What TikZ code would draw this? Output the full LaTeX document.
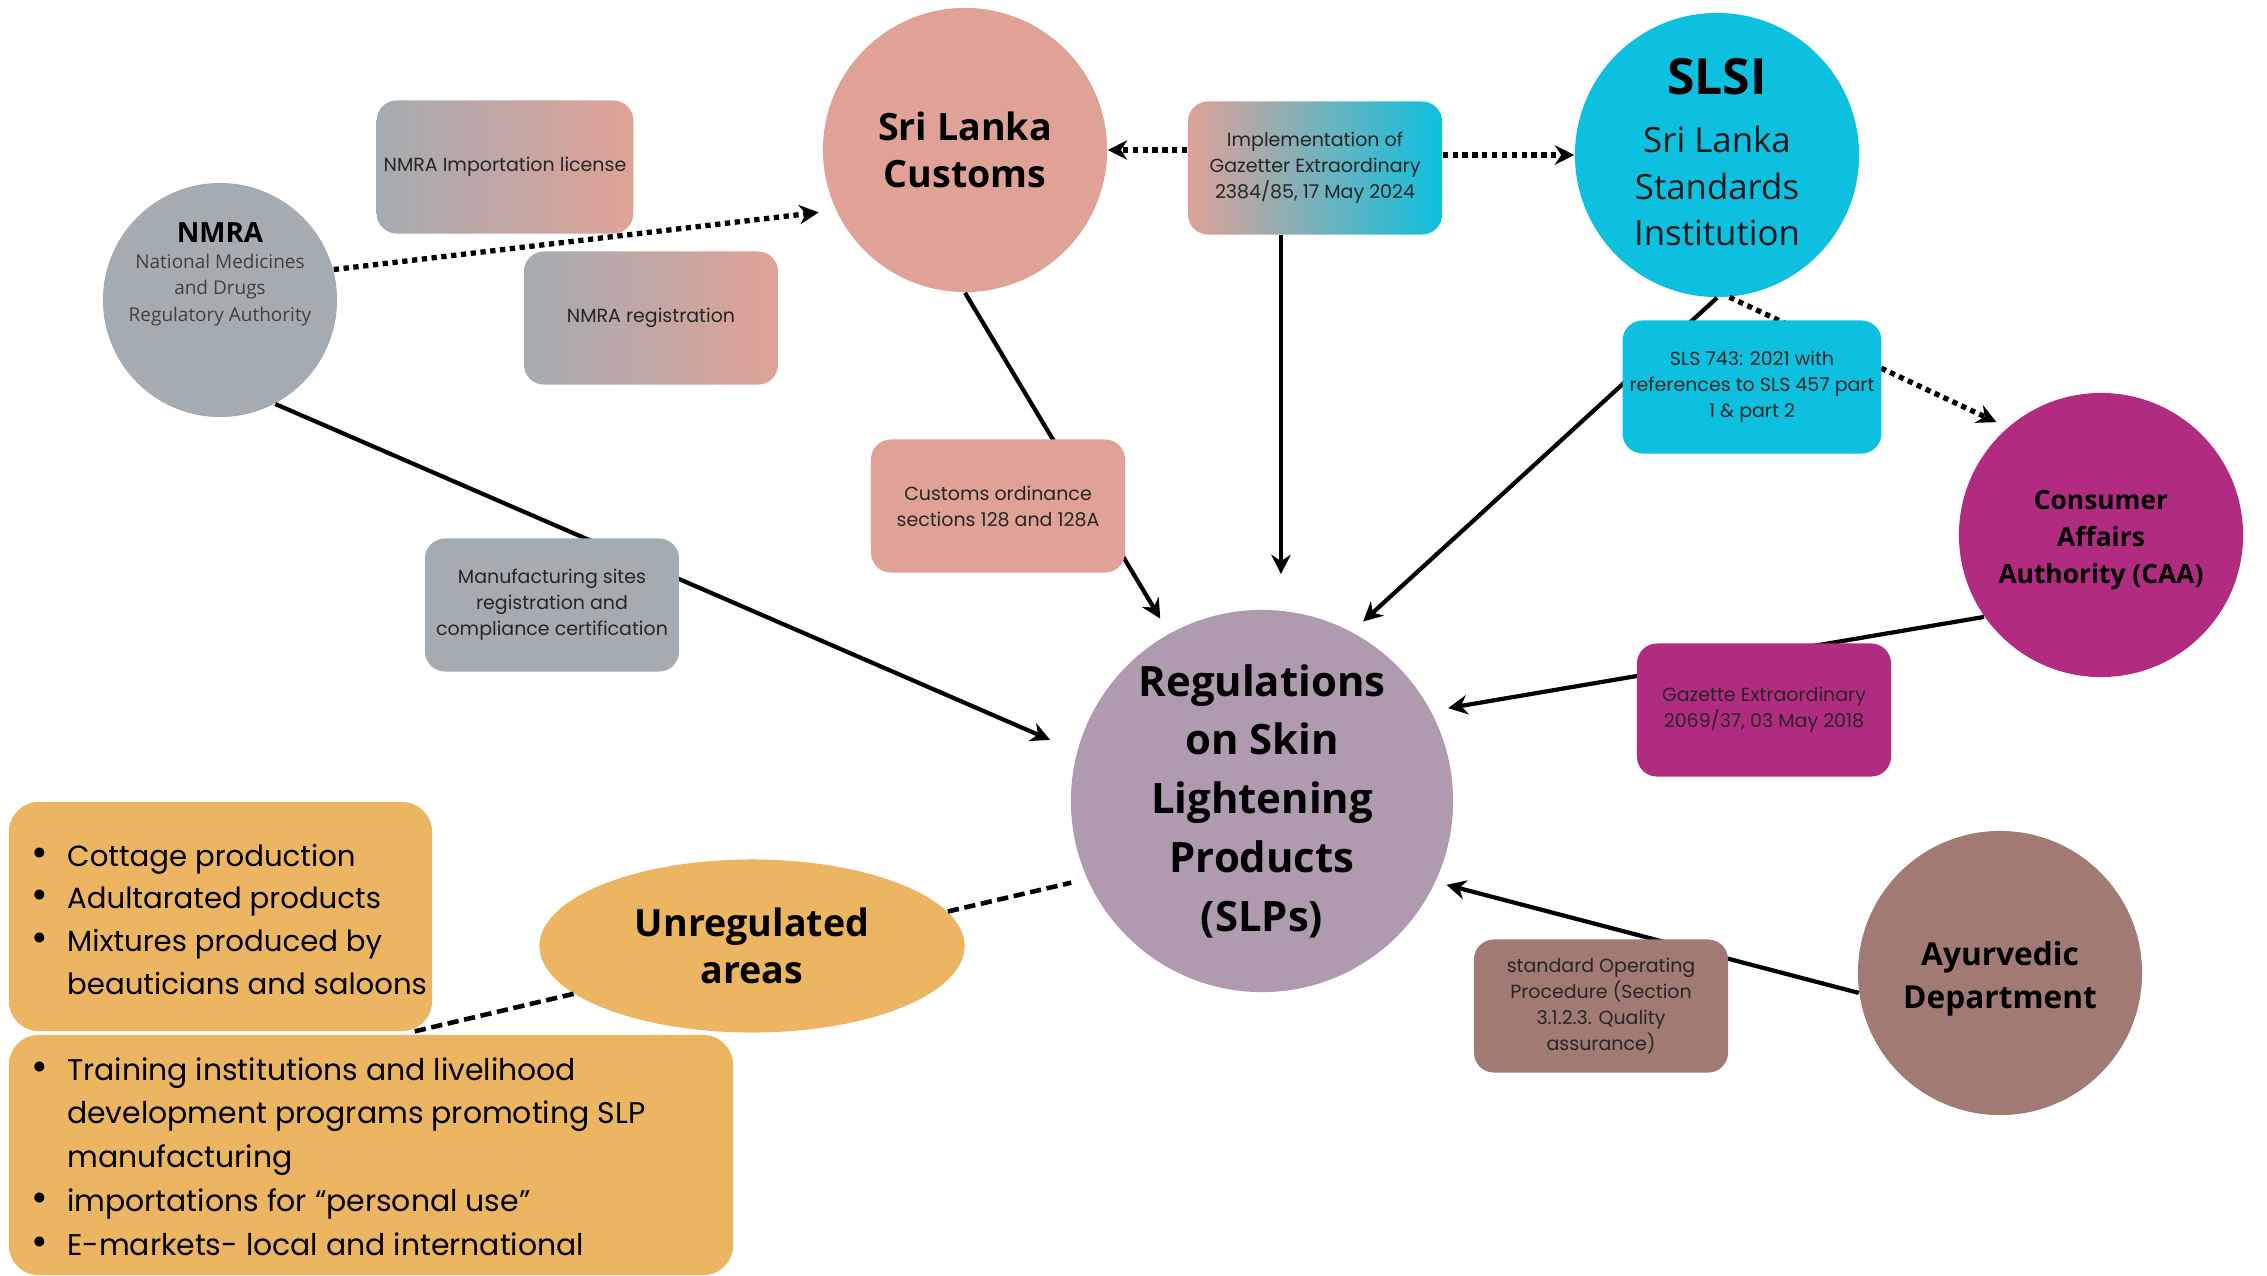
\documentclass[tikz,border=0pt]{standalone}
\usepackage{fontspec}
\usetikzlibrary{shapes.geometric,arrows.meta,positioning}

\newfontfamily\popfont{Poppins}
\newfontfamily\opfont{Open Sans}
\newcommand{\txtsize}[2]{\fontsize{#1}{#2}\selectfont}
\newcommand{\dotmark}{{\txtsize{11.5}{12}\textbullet}}

\definecolor{nmragrey}{HTML}{A4ACB1}
\definecolor{custpink}{HTML}{E0A297}
\definecolor{slsicyan}{HTML}{0EC0DF}
\definecolor{caamag}{HTML}{B12C80}
\definecolor{ayurbrown}{HTML}{A17A74}
\definecolor{slpmauve}{HTML}{AF9AAF}
\definecolor{unregorange}{HTML}{ECB561}

\begin{document}
\begin{tikzpicture}[
    x=0.01cm, y=-0.01cm,
    agency/.style={circle, inner sep=0pt, minimum size=2.84cm, align=center},
    doc/.style={rectangle, rounded corners=0.2cm, minimum width=2.54cm, minimum height=1.33cm, inner sep=2pt, align=center, text=black!85, font=\popfont\txtsize{5.4}{7.4}},
    listbox/.style={rectangle, rounded corners=0.3cm, fill=unregorange},
    listtext/.style={anchor=base west, inner sep=0pt, font=\popfont\txtsize{8.3}{12.2}},
    link/.style={-{Stealth[length=5.5pt,width=5.5pt]}, line width=1.2pt},
    dots/.style={link, line width=1.5pt, dash pattern=on 1.5pt off 1.3pt},
    loose/.style={line width=1.3pt, dash pattern=on 3.2pt off 1.6pt}
]
    \useasboundingbox (0,0) rectangle (2267,1275);

    % agencies
    \node[agency, fill=nmragrey, minimum size=2.34cm] (nmra) at (220,300) {};
    \node[align=center, text=black!75, font=\opfont\txtsize{5.4}{7.5}] (nmratxt) at (220,274)
        {{\bfseries\color{black}\txtsize{7.9}{7.5}NMRA}\\National Medicines\\and Drugs\\Regulatory Authority};
    \node[agency, fill=custpink, font=\opfont\bfseries\txtsize{10.7}{13.2}] (customs) at (965,150) {Sri Lanka\\Customs};
    \node[agency, fill=slsicyan] (slsi) at (1717,155) {};
    \node[align=center, text=black!90, font=\opfont\txtsize{9.9}{13.2}] (slsitxt) at (1717,152)
        {{\bfseries\color{black}\txtsize{14.2}{17}SLSI}\\[3.5pt]Sri Lanka\\Standards\\Institution};
    \node[agency, fill=caamag] (caa) at (2101,535) {};
    \node[align=center, font=\opfont\bfseries\txtsize{7.5}{10.5}] (caatxt) at (2101,540) {Consumer\\Affairs\\Authority (CAA)};
    \node[agency, fill=ayurbrown] (ayur) at (2000,973) {};
    \node[align=center, font=\opfont\bfseries\txtsize{9}{12.3}] (ayurtxt) at (2000,979) {Ayurvedic\\Department};
    \node[agency, fill=slpmauve, minimum size=3.82cm, font=\opfont\bfseries\txtsize{11.9}{16.7}] (slp) at (1262,801)
        {Regulations\\on Skin\\Lightening\\Products\\(SLPs)};
    \node[ellipse, fill=unregorange, minimum width=4.25cm, minimum height=1.73cm, inner sep=0pt, align=center,
        font=\opfont\bfseries\txtsize{10.7}{13.2}] (unreg) at (752,946) {Unregulated\\areas};

    % links into the centre
    \draw[link, shorten >=0.29cm] (nmra.-62) -- (slp.165);
    \draw[link, shorten >=0.17cm] (customs.south) -- (slp.119);
    \draw[link, shorten >=0.15cm] (slsi.south) -- (slp.62);
    \draw[link, shorten >=0.17cm] (caa.215) -- (slp.28);
    \draw[link, shorten >=0.11cm] (ayur.188) -- (slp.-25);
    \draw[dots, shorten >=0.17cm] (nmra.15) -- (customs.205);
    \draw[dots, shorten >=0.12cm] (slsi.-85) -- (caa.131);
    \draw[loose, shorten >=0.16cm] (unreg.10) -- (slp.204);

    % documents
    \node[doc, left color=nmragrey, right color=custpink] (implic) at (505,167) {NMRA Importation license};
    \node[doc, left color=nmragrey, right color=custpink] (nmrareg) at (651,318) {NMRA registration};
    \node[doc, fill=nmragrey] (sites) at (552,605) {Manufacturing sites\\registration and\\compliance certification};
    \node[doc, fill=custpink] (ordin) at (998,506) {Customs ordinance\\sections 128 and 128A};
    \node[doc, left color=custpink, right color=slsicyan] (gazimpl) at (1315,168) {Implementation of\\Gazetter Extraordinary\\2384/85, 17 May 2024};
    \node[doc, fill=slsicyan] (slsstd) at (1752,387) {SLS 743: 2021 with\\references to SLS 457 part\\1 \& part 2};
    \node[doc, fill=caamag] (gazcaa) at (1764,710) {Gazette Extraordinary\\2069/37, 03 May 2018};
    \node[doc, fill=ayurbrown] (sop) at (1601,1006) {standard Operating\\Procedure (Section\\3.1.2.3. Quality\\assurance)};

    \coordinate (drop) at ([xshift=-0.34cm]gazimpl.south);
    \draw[dots] (gazimpl.west |- customs.east) -- (customs.east);
    \draw[dots] (gazimpl.east |- slsi.west) -- (slsi.west);
    \draw[link, shorten >=0.35cm] (drop) -- (drop |- slp.north);

    % unregulated areas
    \node[listbox, minimum width=4.23cm, minimum height=2.29cm] (listA) at (220.5,916.5) {};
    \node[listbox, minimum width=7.24cm, minimum height=2.40cm] (listB) at (371,1155) {};
    \node[listtext] (listAtxt) at (31,866) {%
        \begin{tabular}[t]{@{}p{10.1pt}@{}l@{}}
        \dotmark & Cottage production\\
        \dotmark & Adultarated products\\
        \dotmark & Mixtures produced by\\
                 & beauticians and saloons
        \end{tabular}};
    \node[listtext, font=\popfont\txtsize{8.5}{12.45}] (listBtxt) at (31,1080) {%
        \begin{tabular}[t]{@{}p{10.1pt}@{}l@{}}
        \dotmark & Training institutions and livelihood\\
                 & development programs promoting SLP\\
                 & manufacturing\\
        \dotmark & importations for “personal use”\\
        \dotmark & E-markets- local and international
        \end{tabular}};
    \draw[loose] (unreg.195) -- ([xshift=-0.2cm]listA.south east);
\end{tikzpicture}
\end{document}
